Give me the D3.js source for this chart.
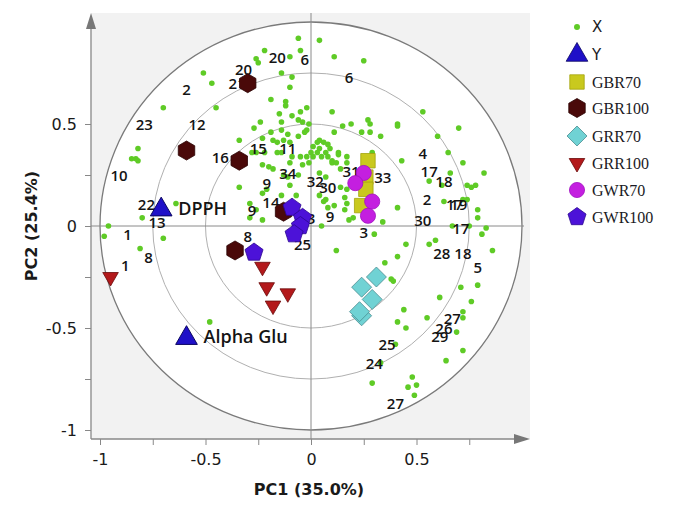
<!DOCTYPE html>
<html>
<head>
<meta charset="utf-8">
<script src="https://cdn.jsdelivr.net/npm/d3@7"></script>
<style>
  body { margin: 0; background: #fff; }
  svg { display: block; }
</style>
</head>
<body>
<div id="chart"></div>
<script>
// Variable loadings (green "X" points), [PC1, PC2]
const xLoadings = [
  [-0.06, 0.92], [0.04, 0.91], [-0.22, 0.86], [-0.05, 0.86], [-0.26, 0.82], [-0.25, 0.80],
  [-0.10, 0.83], [0.11, 0.83], [0.25, 0.81], [-0.14, 0.75], [-0.09, 0.73], [-0.10, 0.68],
  [-0.19, 0.62], [-0.12, 0.61], [-0.12, 0.59], [-0.51, 0.75], [-0.47, 0.70], [-0.70, 0.58],
  [-0.45, 0.58], [-0.02, 0.58], [0.10, 0.56], [0.53, 0.56], [-0.15, 0.55], [-0.05, 0.56],
  [-0.09, 0.54], [-0.06, 0.52], [-0.24, 0.51], [-0.14, 0.51], [-0.04, 0.51], [0.27, 0.52],
  [-0.01, 0.50], [0.15, 0.49], [0.41, 0.50], [0.70, 0.48], [-0.27, 0.48], [-0.14, 0.47],
  [-0.02, 0.47], [-0.19, 0.46], [-0.03, 0.46], [-0.11, 0.45], [0.19, 0.50], [0.24, 0.46],
  [0.28, 0.46], [0.28, 0.50], [0.41, 0.49], [0.33, 0.44], [0.60, 0.44], [0.11, 0.46],
  [-0.82, 0.38], [-0.83, 0.33], [-0.85, 0.33], [-0.82, 0.32],
  [-0.34, 0.42], [-0.23, 0.43], [-0.18, 0.42], [-0.13, 0.42], [-0.10, 0.41], [-0.16, 0.41],
  [-0.06, 0.44], [-0.28, 0.36], [-0.26, 0.36], [-0.22, 0.36], [-0.16, 0.36], [-0.14, 0.36],
  [-0.09, 0.34], [-0.05, 0.34], [-0.02, 0.34], [-0.01, 0.31], [-0.10, 0.31], [-0.23, 0.30],
  [-0.20, 0.29], [-0.18, 0.28], [-0.04, 0.30],
  [0.04, 0.42], [0.06, 0.41], [0.03, 0.41], [0.08, 0.40], [0.01, 0.39], [0.04, 0.38],
  [0.09, 0.38], [0.00, 0.36], [0.03, 0.36], [0.07, 0.36], [0.05, 0.34], [0.01, 0.34],
  [0.08, 0.34], [0.10, 0.32], [0.10, 0.31], [0.13, 0.36], [0.14, 0.28], [0.12, 0.31],
  [0.17, 0.31], [0.13, 0.35], [0.17, 0.34], [0.29, 0.36], [0.43, 0.32], [0.65, 0.36],
  [0.72, 0.31],
  [0.04, 0.26], [0.07, 0.24], [-0.11, 0.24], [-0.13, 0.25], [-0.06, 0.25], [0.82, 0.26],
  [0.66, 0.26], [0.56, 0.22], [0.62, 0.20], [0.74, 0.20], [0.76, 0.19], [0.78, 0.20],
  [-0.34, 0.19], [-0.21, 0.18], [-0.10, 0.20], [-0.23, 0.16], [-0.14, 0.15], [-0.07, 0.15],
  [0.04, 0.15], [0.07, 0.13], [0.08, 0.09], [0.17, 0.18], [0.17, 0.11], [0.14, 0.19],
  [0.16, 0.14], [0.11, 0.10], [0.16, 0.08], [-0.29, 0.11], [-0.26, 0.08], [-0.29, 0.04],
  [-0.23, 0.03], [0.20, 0.04], [0.18, 0.03], [0.05, 0.00], [0.41, 0.09], [0.63, 0.12],
  [0.72, 0.13], [0.74, 0.13], [0.79, 0.08], [0.79, 0.04], [0.83, -0.01], [0.81, -0.04],
  [0.67, 0.00], [0.75, 0.00], [0.34, 0.02], [-0.64, 0.11], [-0.80, 0.04], [-0.96, 0.00],
  [-0.98, -0.05], [0.06, 0.12],
  [-0.70, -0.06], [-0.81, -0.11], [0.12, -0.12], [0.30, -0.04], [0.35, -0.18], [0.45, -0.09],
  [0.41, -0.15], [0.56, -0.09], [0.59, -0.07], [0.86, -0.12], [0.38, -0.26], [0.39, -0.27],
  [0.79, -0.29], [0.71, -0.30], [0.61, -0.35],
  [0.76, -0.37], [0.72, -0.42], [0.72, -0.45], [0.69, -0.52], [0.55, -0.45], [0.44, -0.41],
  [0.41, -0.47], [0.45, -0.50], [0.72, -0.61], [0.64, -0.66], [0.40, -0.58], [0.33, -0.67],
  [0.48, -0.74], [0.46, -0.79], [0.50, -0.78], [0.49, -0.83], [0.29, -0.77], [-0.48, -0.47]
];

// Variable number labels: [text, PC1, PC2]
const varLabels = [
  ['20', -0.16, 0.83], ['6', -0.03, 0.82], ['6', 0.18, 0.73], ['20', -0.32, 0.77],
  ['21', -0.35, 0.70], ['2', -0.59, 0.67], ['23', -0.79, 0.50], ['12', -0.54, 0.50],
  ['16', -0.43, 0.34], ['15', -0.25, 0.38], ['11', -0.11, 0.38], ['10', -0.91, 0.25],
  ['34', -0.11, 0.26], ['9', -0.21, 0.21], ['32', 0.02, 0.22], ['30', 0.08, 0.19],
  ['31', 0.19, 0.27], ['33', 0.34, 0.24], ['4', 0.53, 0.36], ['17', 0.56, 0.27],
  ['18', 0.63, 0.22], ['2', 0.55, 0.13], ['17', 0.68, 0.11], ['19', 0.70, 0.11],
  ['30', 0.53, 0.03], ['17', 0.71, -0.01], ['28', 0.62, -0.13], ['18', 0.72, -0.13],
  ['5', 0.79, -0.20], ['27', 0.67, -0.45], ['26', 0.63, -0.50], ['29', 0.61, -0.54],
  ['25', 0.36, -0.58], ['24', 0.30, -0.67], ['27', 0.40, -0.87], ['14', -0.19, 0.12],
  ['9', -0.28, 0.08], ['22', -0.78, 0.11], ['13', -0.73, 0.02], ['1', -0.87, -0.04],
  ['8', -0.77, -0.15], ['1', -0.88, -0.19], ['8', -0.30, -0.05], ['25', -0.04, -0.09],
  ['3', 0.00, 0.04], ['9', 0.09, 0.05], ['3', 0.25, -0.03]
];

// Response variables (blue "Y" triangles)
const yLoadings = [
  ['DPPH', -0.71, 0.09],
  ['Alpha Glu', -0.59, -0.54]
];

// Sample scores per group
const gbr70 = [[0.27, 0.32], [0.26, 0.24], [0.26, 0.18], [0.24, 0.10]];
const gbr100 = [[-0.30, 0.70], [-0.59, 0.37], [-0.34, 0.32], [-0.36, -0.12], [-0.13, 0.07]];
const grr70 = [[0.31, -0.25], [0.24, -0.30], [0.29, -0.36], [0.24, -0.44], [0.23, -0.42]];
const grr100 = [[-0.95, -0.25], [-0.23, -0.20], [-0.21, -0.30], [-0.11, -0.33], [-0.18, -0.39]];
const gwr70 = [[0.25, 0.26], [0.21, 0.21], [0.29, 0.12], [0.27, 0.05]];
const gwr100 = [[-0.09, 0.09], [-0.04, 0.04], [-0.05, 0.00], [-0.08, -0.04], [-0.27, -0.13]];

const xTicks = [-1, -0.75, -0.5, -0.25, 0, 0.25, 0.5, 0.75];
const yTicks = [-1, -0.75, -0.5, -0.25, 0, 0.25, 0.5];
const circleRadii = [1, 0.75, 0.5];

const width = 673, height = 511;
const panel = { left: 91, right: 530, top: 13, bottom: 439 };

/**
 * Regular polygon path centred at 0,0
 */
function polygon(n, r, rot) {
  const pts = d3.range(n).map(i => {
    const a = rot + i * 2 * Math.PI / n;
    return [(r * Math.cos(a)).toFixed(2), (r * Math.sin(a)).toFixed(2)];
  });
  return 'M' + pts.join('L') + 'Z';
}

const up = -Math.PI / 2;
const groups = [
  { name: 'GBR70', data: gbr70, path: polygon(4, 10.2, Math.PI / 4), fill: '#c9c91e', stroke: '#a3a30c' },
  { name: 'GBR100', data: gbr100, path: polygon(6, 9.5, up), fill: '#4a0909', stroke: '#2a0202' },
  { name: 'GRR70', data: grr70, path: polygon(4, 10, up), fill: '#70d2d4', stroke: '#4b8d90' },
  { name: 'GRR100', data: grr100, path: polygon(3, 9, Math.PI / 2), fill: '#b3191b', stroke: '#6a0a0a' },
  { name: 'GWR70', data: gwr70, path: d3.symbol(d3.symbolCircle, 180)(), fill: '#c41fe0', stroke: '#a010c0' },
  { name: 'GWR100', data: gwr100, path: polygon(5, 9.5, up), fill: '#4c12d8', stroke: '#2c0890' }
];

const svg = d3.select('#chart').append('svg')
  .attr('width', width)
  .attr('height', height)
  .style('font-family', '"Open Sans", "DejaVu Sans", sans-serif');

const x = d3.scaleLinear().domain([-1, 1]).range([100, 522]);
const y = d3.scaleLinear().domain([-1, 1]).range([430, 22]);

// grey panel
svg.append('rect')
  .attr('x', panel.left).attr('y', panel.top)
  .attr('width', panel.right - panel.left)
  .attr('height', panel.bottom - panel.top)
  .attr('fill', '#f2f2f2');

// correlation circles
circleRadii.forEach((r, i) => {
  svg.append('ellipse')
    .attr('cx', x(0)).attr('cy', y(0))
    .attr('rx', x(r) - x(0)).attr('ry', y(0) - y(r))
    .attr('fill', i === 0 ? '#fff' : 'none')
    .attr('stroke', i === 0 ? '#7a7a7a' : '#b0b0b0')
    .attr('stroke-width', i === 0 ? 1.3 : 1);
});

// crosshair through the origin
svg.append('line')
  .attr('x1', panel.left).attr('x2', panel.right - 6)
  .attr('y1', y(0)).attr('y2', y(0))
  .attr('stroke', '#8a8a8a');
svg.append('line')
  .attr('x1', x(0)).attr('x2', x(0))
  .attr('y1', panel.top).attr('y2', panel.bottom)
  .attr('stroke', '#8a8a8a');

// axes
const fmt = d => Number.isInteger(d * 2) ? String(d) : '';

const xAxis = svg.append('g')
  .attr('transform', `translate(0,${panel.bottom})`)
  .call(d3.axisBottom(x).tickValues(xTicks).tickSize(6).tickPadding(9).tickFormat(fmt));
const yAxis = svg.append('g')
  .attr('transform', `translate(${panel.left},0)`)
  .call(d3.axisLeft(y).tickValues(yTicks).tickSize(6).tickPadding(8).tickFormat(fmt));

[xAxis, yAxis].forEach(g => {
  g.select('.domain').remove();
  g.selectAll('.tick line').attr('stroke', '#888');
  g.selectAll('.tick text')
    .attr('fill', '#1a1a1a')
    .style('font-size', '16px')
    .style('font-family', '"DejaVu Sans", sans-serif');
});

// axis lines with arrow heads
svg.append('line')
  .attr('x1', panel.left).attr('x2', panel.right - 10)
  .attr('y1', panel.bottom).attr('y2', panel.bottom)
  .attr('stroke', '#888').attr('stroke-width', 1.3);
svg.append('path')
  .attr('d', `M${panel.right},${panel.bottom}L${panel.right - 16},${panel.bottom - 5}L${panel.right - 16},${panel.bottom + 5}Z`)
  .attr('fill', '#777');
svg.append('line')
  .attr('x1', panel.left).attr('x2', panel.left)
  .attr('y1', panel.bottom).attr('y2', panel.top + 10)
  .attr('stroke', '#888').attr('stroke-width', 1.3);
svg.append('path')
  .attr('d', `M${panel.left},${panel.top}L${panel.left - 5},${panel.top + 16}L${panel.left + 5},${panel.top + 16}Z`)
  .attr('fill', '#777');

// axis titles
svg.append('text')
  .attr('x', 309).attr('y', 495)
  .attr('text-anchor', 'middle')
  .style('font-family', '"DejaVu Sans", sans-serif')
  .style('font-size', '16px').style('font-weight', 'bold')
  .attr('fill', '#1a1a1a')
  .text('PC1 (35.0%)');
svg.append('text')
  .attr('transform', `translate(37,${y(0)}) rotate(-90)`)
  .attr('text-anchor', 'middle')
  .style('font-family', '"DejaVu Sans", sans-serif')
  .style('font-size', '16px').style('font-weight', 'bold')
  .attr('fill', '#1a1a1a')
  .text('PC2 (25.4%)');

// X loadings
svg.append('g').selectAll('circle')
  .data(xLoadings)
  .join('circle')
  .attr('cx', d => x(d[0]))
  .attr('cy', d => y(d[1]))
  .attr('r', 2.8)
  .attr('fill', '#5fcb26');

// variable labels
svg.append('g').selectAll('text')
  .data(varLabels)
  .join('text')
  .attr('x', d => x(d[1]))
  .attr('y', d => y(d[2]))
  .attr('text-anchor', 'middle')
  .attr('dominant-baseline', 'central')
  .style('font-size', '15px')
  .style('font-weight', 600)
  .attr('fill', '#141414')
  .text(d => d[0]);

// sample scores
groups.forEach(grp => {
  svg.append('g').selectAll('path')
    .data(grp.data)
    .join('path')
    .attr('transform', d => `translate(${x(d[0])},${y(d[1])})`)
    .attr('d', grp.path)
    .attr('fill', grp.fill)
    .attr('stroke', grp.stroke)
    .attr('stroke-width', 0.8);
});

// Y loadings
const triUp = polygon(3, 12.5, up);
const yg = svg.append('g').selectAll('g')
  .data(yLoadings)
  .join('g')
  .attr('transform', d => `translate(${x(d[1])},${y(d[2])})`);
yg.append('path')
  .attr('d', triUp)
  .attr('transform', 'translate(0,2)')
  .attr('fill', '#1f10c8')
  .attr('stroke', '#0a0560');
yg.append('text')
  .attr('x', 17)
  .attr('y', 7)
  .style('font-size', '18px')
  .style('font-weight', 600)
  .attr('fill', '#141414')
  .text(d => d[0]);

// legend
const legendItems = [
  { name: 'X', path: d3.symbol(d3.symbolCircle, 28)(), fill: '#5fcb26', stroke: 'none', serif: false },
  { name: 'Y', path: triUp, fill: '#1f10c8', stroke: '#0a0560', serif: false }
].concat(groups.map(g => Object.assign({ serif: true }, g)));
const legendY = [27, 55, 82, 108, 136, 163, 190, 217];

const lg = svg.append('g').selectAll('g')
  .data(legendItems)
  .join('g')
  .attr('transform', (d, i) => `translate(577,${legendY[i]})`);
lg.append('path')
  .attr('d', d => d.path)
  .attr('fill', d => d.fill)
  .attr('stroke', d => d.stroke)
  .attr('stroke-width', 0.8);
lg.append('text')
  .attr('x', 15)
  .attr('dominant-baseline', 'central')
  .style('font-family', d => d.serif ? '"Liberation Serif", serif' : '"DejaVu Sans", sans-serif')
  .style('font-size', d => d.serif ? '16px' : '15px')
  .attr('fill', '#1a1a24')
  .text(d => d.name);
</script>
</body>
</html>
